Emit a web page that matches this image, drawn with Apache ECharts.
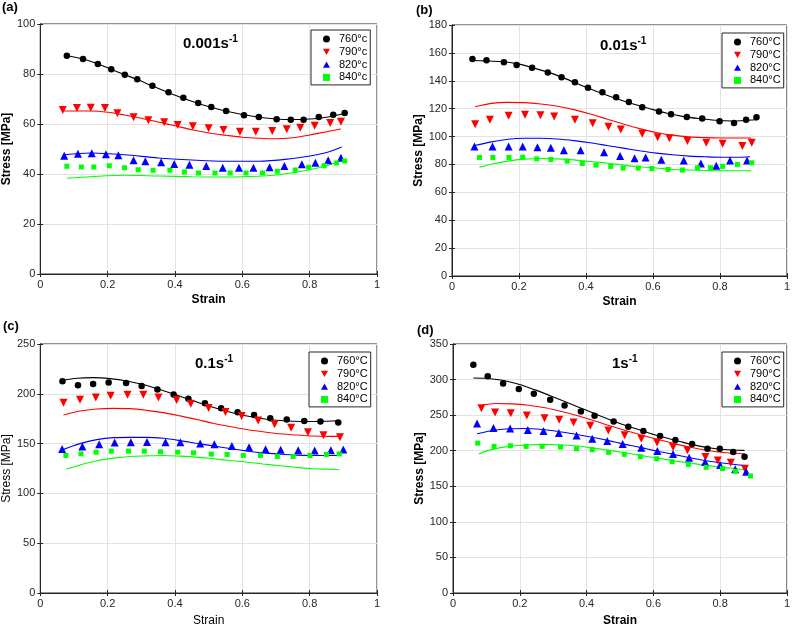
<!DOCTYPE html>
<html><head><meta charset="utf-8">
<script src="https://cdn.jsdelivr.net/npm/echarts@6/dist/echarts.min.js"></script>
<style>html,body{margin:0;padding:0;background:#fff}#c{width:793px;height:628px}</style>
</head><body><div id="c"></div>
<script>
// ---------- DATA ----------
const panelLabels = ['(a)', '(b)', '(c)', '(d)'];
const strainRates = ['0.001', '0.01', '0.1', '1'];
const tempsA = ['760°c', '790°c', '820°c', '840°c'];
const tempsBCD = ['760°C', '790°C', '820°C', '840°C'];
const yMaxs = [100, 180, 250, 350];
const yIntervals = [20, 20, 50, 50];

// Panel (a) 0.001 s^-1 : experimental [strain, stress]
const expA760 = [[0.079,87.3],[0.127,86.0],[0.171,84.0],[0.211,81.9],[0.251,79.7],[0.288,77.9],[0.333,75.3],[0.381,72.7],[0.425,70.5],[0.469,68.4],[0.508,66.8],[0.552,65.2],[0.605,63.5],[0.649,62.8],[0.702,61.9],[0.744,61.7],[0.782,61.7],[0.827,62.8],[0.870,63.7],[0.904,64.4]];
const expA790 = [[0.067,65.6],[0.109,66.4],[0.150,66.5],[0.192,66.4],[0.229,64.3],[0.277,62.7],[0.321,61.5],[0.368,60.7],[0.408,59.6],[0.453,59.1],[0.500,58.3],[0.544,57.6],[0.593,56.9],[0.640,56.9],[0.689,57.2],[0.732,57.9],[0.772,58.5],[0.815,59.3],[0.861,60.4],[0.893,60.9]];
const expA820 = [[0.071,47.3],[0.112,48.1],[0.153,48.3],[0.195,47.9],[0.232,47.5],[0.277,45.5],[0.312,45.1],[0.359,44.7],[0.398,44.0],[0.443,43.7],[0.493,43.2],[0.542,42.5],[0.590,42.5],[0.633,42.5],[0.681,42.7],[0.725,43.2],[0.777,43.9],[0.817,44.5],[0.855,45.5],[0.893,46.5]];
const expA840 = [[0.079,43.1],[0.122,42.8],[0.159,42.8],[0.205,43.3],[0.250,42.5],[0.291,41.7],[0.335,41.5],[0.385,41.5],[0.428,40.8],[0.470,40.4],[0.519,40.4],[0.564,40.4],[0.611,40.4],[0.660,40.4],[0.704,41.1],[0.757,41.6],[0.797,42.7],[0.843,43.3],[0.880,44.4],[0.904,45.2]];
// Panel (a) model curves
const fitA760 = [[0.08,87.3],[0.13,85.9],[0.17,84.1],[0.21,81.9],[0.25,79.8],[0.29,77.7],[0.33,75.4],[0.38,72.6],[0.42,70.5],[0.47,68.2],[0.51,66.6],[0.55,65.2],[0.6,63.8],[0.65,62.7],[0.7,62.0],[0.75,61.8],[0.8,62.0],[0.85,62.7],[0.905,64.3]];
const fitA790 = [[0.069,65.2],[0.15,65.2],[0.2,64.7],[0.25,63.6],[0.3,62.3],[0.35,60.8],[0.4,59.3],[0.45,57.7],[0.5,56.4],[0.55,55.5],[0.6,54.7],[0.65,54.3],[0.7,54.1],[0.75,54.5],[0.8,55.6],[0.85,56.9],[0.893,58.0]];
const fitA820 = [[0.07,47.7],[0.15,48.4],[0.25,47.7],[0.35,46.4],[0.45,45.6],[0.55,45.1],[0.65,45.1],[0.75,46.2],[0.8,47.2],[0.85,48.6],[0.895,50.8]];
const fitA840 = [[0.08,38.3],[0.15,38.9],[0.25,39.5],[0.35,39.2],[0.45,38.9],[0.55,38.8],[0.65,39.1],[0.7,39.6],[0.75,40.5],[0.8,41.7],[0.85,43.3],[0.895,45.3]];

// Panel (b) 0.01 s^-1
const expB760 = [[0.061,155.7],[0.103,154.8],[0.155,153.3],[0.193,151.4],[0.239,149.3],[0.286,146.0],[0.327,142.6],[0.367,139.0],[0.406,135.0],[0.449,131.7],[0.490,128.1],[0.528,124.8],[0.568,121.0],[0.618,117.9],[0.654,116.0],[0.701,114.0],[0.747,112.9],[0.799,111.0],[0.842,109.8],[0.878,112.1],[0.909,113.8]];
const expB790 = [[0.069,108.8],[0.113,112.1],[0.169,115.0],[0.218,115.7],[0.264,115.2],[0.305,114.3],[0.367,112.1],[0.420,109.5],[0.467,107.1],[0.504,105.0],[0.568,102.1],[0.614,99.5],[0.649,98.8],[0.703,96.9],[0.759,95.5],[0.808,94.8],[0.867,93.3],[0.895,95.5]];
const expB820 = [[0.067,92.9],[0.121,92.9],[0.169,92.9],[0.211,92.9],[0.255,92.4],[0.295,91.9],[0.334,90.2],[0.384,90.2],[0.454,88.8],[0.502,86.0],[0.545,84.5],[0.578,85.0],[0.625,83.3],[0.692,82.9],[0.743,80.7],[0.789,79.0],[0.830,82.9],[0.881,82.9]];
const expB840 = [[0.082,85.0],[0.122,85.0],[0.170,85.0],[0.211,85.2],[0.253,84.0],[0.295,83.6],[0.344,82.4],[0.389,80.7],[0.430,79.5],[0.474,78.6],[0.511,77.4],[0.556,77.4],[0.597,77.1],[0.645,76.4],[0.688,76.0],[0.733,77.6],[0.772,77.6],[0.808,78.6],[0.852,80.0],[0.895,81.2]];
const fitB760 = [[0.061,154.5],[0.098,154.3],[0.147,153.8],[0.197,152.1],[0.246,149.0],[0.295,145.5],[0.344,141.0],[0.393,136.0],[0.442,131.4],[0.492,127.1],[0.541,123.3],[0.59,120.0],[0.639,116.9],[0.688,114.5],[0.737,112.9],[0.787,111.7],[0.836,111.2],[0.885,111.7],[0.91,112.1]];
const fitB790 = [[0.069,121.4],[0.118,123.8],[0.167,124.5],[0.216,124.3],[0.265,123.3],[0.315,121.7],[0.364,119.3],[0.413,116.2],[0.462,112.6],[0.511,109.0],[0.56,105.7],[0.61,102.9],[0.659,101.0],[0.708,99.8],[0.757,99.3],[0.806,99.0],[0.855,99.0],[0.893,99.0]];
const fitB820 = [[0.067,93.6],[0.118,96.2],[0.167,98.1],[0.216,98.8],[0.265,98.8],[0.315,98.3],[0.364,97.1],[0.413,95.5],[0.462,93.6],[0.511,91.7],[0.56,89.8],[0.61,88.1],[0.659,86.9],[0.708,86.0],[0.757,85.5],[0.806,85.2],[0.855,85.2],[0.89,85.5]];
const fitB840 = [[0.082,78.1],[0.118,80.2],[0.167,82.4],[0.216,83.8],[0.265,84.3],[0.315,84.0],[0.364,83.3],[0.413,82.1],[0.462,81.0],[0.511,79.5],[0.56,78.3],[0.61,77.4],[0.659,76.4],[0.708,76.0],[0.757,75.7],[0.806,75.5],[0.855,75.5],[0.893,75.5]];

// Panel (c) 0.1 s^-1
const expC760 = [[0.066,212.6],[0.112,208.6],[0.157,209.9],[0.203,211.3],[0.255,210.9],[0.301,207.9],[0.348,204.3],[0.396,199.3],[0.440,195.0],[0.489,190.4],[0.537,185.4],[0.586,181.5],[0.635,178.8],[0.683,175.5],[0.732,174.2],[0.784,172.8],[0.832,172.2],[0.885,171.2]];
const expC790 = [[0.069,191.1],[0.118,194.0],[0.165,196.4],[0.209,198.0],[0.259,199.0],[0.306,199.0],[0.351,196.4],[0.405,193.7],[0.447,190.1],[0.500,185.8],[0.550,181.8],[0.598,177.8],[0.647,173.2],[0.696,169.5],[0.745,165.9],[0.795,161.3],[0.841,158.3],[0.890,156.3]];
const expC820 = [[0.065,144.7],[0.125,147.0],[0.175,149.3],[0.221,151.0],[0.269,151.3],[0.317,151.7],[0.372,151.3],[0.416,151.3],[0.475,150.0],[0.517,149.3],[0.569,147.7],[0.620,146.4],[0.669,144.4],[0.714,143.7],[0.766,143.4],[0.815,143.0],[0.863,143.4],[0.900,144.0]];
const expC840 = [[0.076,138.1],[0.121,139.7],[0.166,141.4],[0.211,142.4],[0.262,142.4],[0.309,142.4],[0.357,141.7],[0.408,141.4],[0.455,140.7],[0.508,139.4],[0.555,139.1],[0.603,138.1],[0.654,138.1],[0.704,137.1],[0.751,137.1],[0.801,138.1],[0.850,139.1],[0.888,139.7]];
const fitC760 = [[0.066,213.6],[0.109,215.6],[0.158,216.2],[0.207,215.2],[0.257,212.9],[0.306,209.3],[0.355,204.3],[0.405,198.7],[0.454,193.0],[0.503,187.4],[0.553,182.5],[0.602,178.5],[0.652,175.5],[0.701,173.5],[0.75,172.5],[0.8,172.2],[0.849,172.5],[0.885,172.8]];
const fitC790 = [[0.069,178.8],[0.118,182.8],[0.168,184.8],[0.217,185.4],[0.267,185.1],[0.316,183.4],[0.365,181.1],[0.415,177.8],[0.464,174.2],[0.513,170.5],[0.563,167.2],[0.612,164.2],[0.661,161.9],[0.711,159.9],[0.76,158.6],[0.809,157.6],[0.859,157.3],[0.888,157.3]];
const fitC820 = [[0.065,143.7],[0.118,150.0],[0.168,154.0],[0.217,156.0],[0.267,156.3],[0.316,156.3],[0.365,155.3],[0.415,153.0],[0.464,150.3],[0.513,147.7],[0.563,145.0],[0.612,142.7],[0.661,140.7],[0.711,139.4],[0.76,138.4],[0.809,138.1],[0.859,138.1],[0.893,138.1]];
const fitC840 = [[0.077,124.2],[0.118,128.5],[0.168,132.8],[0.217,135.4],[0.267,137.1],[0.316,137.7],[0.365,138.1],[0.415,137.4],[0.464,136.4],[0.513,134.8],[0.563,133.1],[0.612,131.5],[0.661,129.5],[0.711,127.8],[0.76,126.2],[0.809,124.8],[0.859,124.2],[0.888,123.8]];

// Panel (d) 1 s^-1
const expD760 = [[0.061,321.0],[0.104,304.7],[0.150,294.4],[0.197,286.9],[0.242,279.9],[0.291,271.5],[0.334,263.6],[0.383,255.1],[0.424,249.1],[0.481,241.1],[0.525,233.6],[0.570,227.6],[0.620,220.6],[0.666,215.0],[0.716,209.3],[0.762,202.8],[0.799,202.8],[0.839,198.1],[0.873,191.6]];
const expD790 = [[0.085,259.8],[0.126,253.7],[0.173,252.8],[0.221,249.5],[0.274,245.8],[0.318,243.5],[0.361,239.7],[0.411,235.0],[0.465,228.5],[0.514,221.9],[0.564,216.8],[0.611,211.7],[0.659,205.1],[0.702,200.5],[0.756,191.1],[0.793,186.4],[0.832,183.2],[0.874,174.8]];
const expD820 = [[0.072,238.3],[0.121,231.8],[0.171,231.3],[0.224,229.0],[0.271,227.6],[0.317,224.8],[0.370,221.5],[0.417,216.8],[0.462,213.6],[0.508,209.3],[0.564,204.2],[0.612,199.5],[0.659,195.3],[0.707,190.2],[0.755,184.1],[0.800,180.0],[0.845,174.0],[0.878,170.5]];
const expD840 = [[0.074,210.7],[0.123,206.1],[0.172,207.0],[0.219,206.1],[0.267,206.1],[0.322,205.1],[0.370,202.8],[0.417,201.4],[0.466,197.7],[0.513,194.9],[0.561,191.6],[0.610,188.8],[0.656,184.6],[0.705,180.8],[0.758,176.6],[0.807,174.8],[0.846,171.0],[0.891,164.5]];
const fitD760 = [[0.061,302.3],[0.098,301.9],[0.148,299.1],[0.197,293.5],[0.246,285.5],[0.295,276.6],[0.344,267.3],[0.394,257.9],[0.443,248.6],[0.492,239.7],[0.541,231.8],[0.591,224.3],[0.64,217.8],[0.689,211.7],[0.738,206.5],[0.787,202.8],[0.837,200.9],[0.873,200.5]];
const fitD790 = [[0.085,264.0],[0.128,266.4],[0.177,265.9],[0.226,264.0],[0.276,260.3],[0.325,255.1],[0.374,249.1],[0.423,242.1],[0.472,234.6],[0.522,227.6],[0.571,221.0],[0.62,215.0],[0.669,209.3],[0.719,204.2],[0.768,200.0],[0.817,197.2],[0.873,195.8]];
const fitD820 = [[0.072,223.8],[0.118,228.5],[0.167,230.8],[0.217,231.3],[0.266,229.9],[0.315,227.1],[0.364,223.4],[0.413,219.2],[0.463,214.5],[0.512,209.3],[0.561,204.7],[0.61,199.5],[0.659,194.9],[0.709,190.2],[0.758,186.0],[0.807,182.7],[0.856,179.9],[0.879,179.0]];
const fitD840 = [[0.077,195.8],[0.118,201.9],[0.167,206.1],[0.217,207.9],[0.266,208.9],[0.315,208.4],[0.364,207.0],[0.413,204.2],[0.463,200.9],[0.512,197.2],[0.561,193.5],[0.61,189.7],[0.659,186.0],[0.709,182.7],[0.758,179.4],[0.807,176.6],[0.856,174.3],[0.881,172.9]];

const expData = [[expA760,expA790,expA820,expA840],[expB760,expB790,expB820,expB840],[expC760,expC790,expC820,expC840],[expD760,expD790,expD820,expD840]];
const fitData = [[fitA760,fitA790,fitA820,fitA840],[fitB760,fitB790,fitB820,fitB840],[fitC760,fitC790,fitC820,fitC840],[fitD760,fitD790,fitD820,fitD840]];

// ---------- STYLE / LAYOUT ----------
const FONT = '"Liberation Sans", Arial, Helvetica, sans-serif';
const AX = '#262626';
const colors = ['#000000', '#ff0000', '#0000ff', '#00ff00'];
const symbols = ['circle', 'triangle', 'triangle', 'rect'];
const legendIcons = ['circle', 'path://M0,0L10,0L5,9Z', 'path://M5,0L10,9L0,9Z', 'rect'];
const symbolRot = [0, 180, 0, 0];
const symbolSizes = [6.5, 8, 8, 5];
const grids = [
  {left: 40, top: 24, width: 337, height: 250},
  {left: 452, top: 25, width: 338, height: 251},
  {left: 40, top: 344, width: 337, height: 250},
  {left: 453, top: 344, width: 338, height: 251}
];
const nameBold = ['bold', 'bold', 'normal', 'bold'];
const xNameGap = [20, 20, 22, 22];
const yNameGap = [26, 27, 26, 26];
const legendPos = [{left: 311, top: 30}, {left: 722, top: 33}, {left: 309, top: 352}, {left: 722, top: 352}];
const titlePos = [{left: 183, top: 34}, {left: 600, top: 36}, {left: 195, top: 354}, {left: 612, top: 354}];
const labelPos = [{left: 2, top: 1}, {left: 416, top: 4}, {left: 3, top: 320}, {left: 417, top: 324}];

const xAxes = [], yAxes = [], series = [], legends = [], titles = [];
for (let p = 0; p < 4; p++) {
  const names = p === 0 ? tempsA : tempsBCD;
  const common = {
    gridIndex: p, type: 'value', min: 0,
    axisLine: {show: true, lineStyle: {color: AX, width: 1}},
    axisTick: {show: true, inside: true, length: 3, lineStyle: {color: AX}},
  };
  xAxes.push(Object.assign({}, common, {
    position: 'bottom', max: 1, interval: 0.2,
    name: 'Strain', nameLocation: 'middle', nameGap: xNameGap[p],
    nameTextStyle: {fontFamily: FONT, fontSize: 12, fontWeight: nameBold[p], color: '#000'},
    axisLabel: {fontFamily: FONT, fontSize: 11, color: AX, margin: 5,
      formatter: v => String(Math.round(v * 10) / 10)},
    splitLine: {show: true, lineStyle: {color: '#e3e3e3', width: 1}}
  }));
  xAxes.push(Object.assign({}, common, {
    position: 'top', max: 1, interval: 0.2,
    axisLabel: {show: false}, splitLine: {show: false}
  }));
  yAxes.push(Object.assign({}, common, {
    position: 'left', max: yMaxs[p], interval: yIntervals[p],
    name: 'Stress [MPa]', nameLocation: 'middle', nameGap: yNameGap[p],
    nameTextStyle: {fontFamily: FONT, fontSize: 12, fontWeight: nameBold[p], color: '#000'},
    axisLabel: {fontFamily: FONT, fontSize: 11, color: AX, margin: 5},
    splitLine: {show: true, lineStyle: {color: '#e3e3e3', width: 1}}
  }));
  yAxes.push(Object.assign({}, common, {
    position: 'right', max: yMaxs[p], interval: yIntervals[p],
    axisLabel: {show: false}, splitLine: {show: false}
  }));
  for (let t = 0; t < 4; t++) {
    series.push({
      name: 'fit' + p + t, type: 'line', xAxisIndex: 2 * p, yAxisIndex: 2 * p,
      data: fitData[p][t], smooth: 0.3, showSymbol: false, symbol: 'none',
      lineStyle: {color: colors[t], width: 1.1}, silent: true, z: 2
    });
  }
  for (let t = 0; t < 4; t++) {
    series.push({
      name: names[t], type: 'scatter', xAxisIndex: 2 * p, yAxisIndex: 2 * p,
      data: expData[p][t], symbol: symbols[t], symbolRotate: symbolRot[t],
      symbolSize: symbolSizes[t], itemStyle: {color: colors[t], opacity: 1}, z: 3
    });
  }
  legends.push(Object.assign({
    data: names.map((n, t) => ({name: n, icon: legendIcons[t]})),
    orient: 'vertical', show: true,
    backgroundColor: '#fff', borderColor: AX, borderWidth: 1, borderRadius: 0,
    padding: [3.5, 3, 2, 12], itemGap: 1.8, itemWidth: 7, itemHeight: 7,
    textStyle: {fontFamily: FONT, fontSize: 11, color: '#000', lineHeight: 11, padding: [0, 0, 0, 4]},
    selectedMode: false
  }, legendPos[p]));
  titles.push(Object.assign({
    text: '{m|' + strainRates[p] + 's}{s|-1}', padding: 0,
    textStyle: {rich: {
      m: {fontFamily: FONT, fontSize: 15, fontWeight: 'bold', color: '#000'},
      s: {fontFamily: FONT, fontSize: 10, fontWeight: 'bold', color: '#000', padding: [0, 0, 10, 0]}
    }}
  }, titlePos[p]));
  titles.push(Object.assign({
    text: panelLabels[p], padding: 0,
    textStyle: {fontFamily: FONT, fontSize: 13, fontWeight: 'bold', color: '#000'}
  }, labelPos[p]));
}

const chart = echarts.init(document.getElementById('c'), null, {renderer: 'canvas'});
chart.setOption({
  animation: false,
  backgroundColor: '#ffffff',
  title: titles,
  legend: legends,
  grid: grids.map(g => Object.assign({show: true, borderColor: AX, borderWidth: 1, backgroundColor: '#fff', containLabel: false}, g)),
  xAxis: xAxes,
  yAxis: yAxes,
  series: series
});
</script></body></html>
